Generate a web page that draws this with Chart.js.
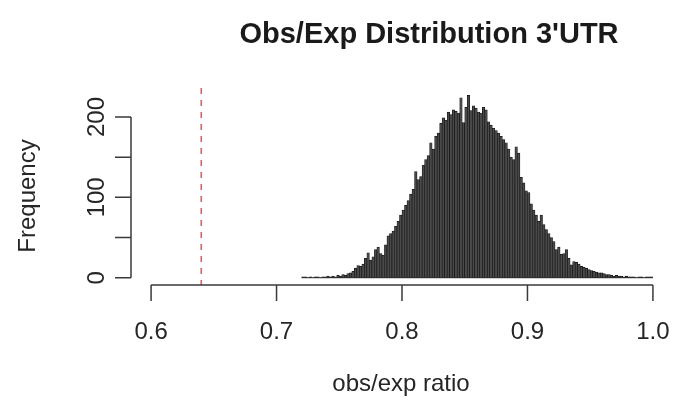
<!DOCTYPE html>
<html lang="en">
  <head>
    <meta charset="utf-8" />
    <title>Obs/Exp Distribution 3'UTR</title>
    <style>
      html, body { margin: 0; padding: 0; background: #fff; }
      .chartBox { width: 674px; height: 411px; }
    </style>
  </head>
  <body>
    <div class="chartBox">
      <canvas id="myChart" width="674" height="411"></canvas>
    </div>
    <script src="https://cdn.jsdelivr.net/npm/chart.js"></script>
    <script>
      // histogram of obs/exp ratios, bins of 0.002 starting at 0.72
      const binStart = 0.72;
      const binWidth = 0.002;
      const counts = [
        1, 1, 0, 1, 0, 1, 1, 0, 1, 1,
        2, 1, 2, 1, 3, 2, 4, 3, 5, 6,
        8, 12, 15, 14, 17, 24, 31, 22, 26, 35,
        38, 30, 28, 41, 52, 55, 58, 64, 70, 78,
        84, 90, 96, 104, 110, 132, 122, 126, 140, 147,
        152, 168, 160, 176, 180, 192, 199, 196, 206, 203,
        209, 207, 205, 224, 193, 212, 227, 208, 214, 211,
        206, 205, 212, 209, 194, 190, 186, 183, 180, 176,
        172, 168, 160, 150, 147, 163, 155, 125, 118, 108,
        106, 92, 84, 78, 70, 78, 66, 60, 55, 50,
        45, 35, 38, 29, 30, 35, 24, 16, 20, 19,
        17, 14, 13, 12, 10, 9, 8, 7, 6, 6,
        5, 4, 4, 3, 2, 3, 2, 2, 1, 2,
        1, 1, 1, 0, 1, 1, 0, 1, 1, 1,
      ];

      const xTicks = [0.6, 0.7, 0.8, 0.9, 1.0];
      const xTickLabels = ["0.6", "0.7", "0.8", "0.9", "1.0"];
      const yTicks = [0, 50, 100, 150, 200];
      const yTickLabels = ["0", "", "100", "", "200"];
      const cutoff = 0.64;

      const titleText = "Obs/Exp Distribution 3'UTR";
      const xTitle = "obs/exp ratio";
      const yTitle = "Frequency";

      const FONT = "'Liberation Sans', Arial, Helvetica, sans-serif";
      const INK = "#262626";

      const points = counts.map((c, i) => ({
        x: binStart + binWidth * (i + 0.5),
        y: c,
      }));

      // base-graphics style axes, labels and the dashed cutoff line
      const baseAxes = {
        id: "baseAxes",
        afterDraw(chart) {
          const { ctx, chartArea } = chart;
          const xs = chart.scales.x;
          const ys = chart.scales.y;
          const tick = 16;
          ctx.save();

          // dashed cutoff
          const cx = xs.getPixelForValue(cutoff);
          ctx.strokeStyle = "rgba(228, 60, 70, 0.85)";
          ctx.lineWidth = 1.6;
          ctx.setLineDash([6, 6]);
          ctx.beginPath();
          ctx.moveTo(cx, chartArea.top);
          ctx.lineTo(cx, chartArea.bottom);
          ctx.stroke();
          ctx.setLineDash([]);

          // zero line under the empty bins
          const y0 = ys.getPixelForValue(0);
          ctx.strokeStyle = "#222";
          ctx.lineWidth = 1;
          ctx.beginPath();
          ctx.moveTo(xs.getPixelForValue(binStart), y0);
          ctx.lineTo(xs.getPixelForValue(binStart + binWidth * counts.length), y0);
          ctx.stroke();

          ctx.strokeStyle = "#3a3a3a";
          ctx.lineWidth = 1.5;
          ctx.beginPath();
          // x axis
          const ax = chartArea.bottom;
          ctx.moveTo(xs.getPixelForValue(xTicks[0]), ax);
          ctx.lineTo(xs.getPixelForValue(xTicks[xTicks.length - 1]), ax);
          xTicks.forEach((v) => {
            const px = xs.getPixelForValue(v);
            ctx.moveTo(px, ax);
            ctx.lineTo(px, ax + tick);
          });
          // y axis
          const ay = chartArea.left;
          ctx.moveTo(ay, ys.getPixelForValue(yTicks[0]));
          ctx.lineTo(ay, ys.getPixelForValue(yTicks[yTicks.length - 1]));
          yTicks.forEach((v) => {
            const py = ys.getPixelForValue(v);
            ctx.moveTo(ay, py);
            ctx.lineTo(ay - tick, py);
          });
          ctx.stroke();

          ctx.fillStyle = INK;
          ctx.font = "24px " + FONT;
          ctx.textAlign = "center";
          ctx.textBaseline = "alphabetic";
          xTicks.forEach((v, i) => {
            ctx.fillText(xTickLabels[i], xs.getPixelForValue(v), 339);
          });
          ctx.fillText(xTitle, 401, 391);

          yTicks.forEach((v, i) => {
            if (!yTickLabels[i]) return;
            ctx.save();
            ctx.translate(104, ys.getPixelForValue(v));
            ctx.rotate(-Math.PI / 2);
            ctx.fillText(yTickLabels[i], 0, 0);
            ctx.restore();
          });

          ctx.save();
          ctx.translate(35, 196);
          ctx.rotate(-Math.PI / 2);
          ctx.fillText(yTitle, 0, 0);
          ctx.restore();

          ctx.font = "bold 29px " + FONT;
          ctx.fillStyle = "#1a1a1a";
          ctx.fillText(titleText, 429, 43);

          ctx.restore();
        },
      };

      const config = {
        type: "bar",
        data: {
          datasets: [
            {
              label: "counts",
              data: points,
              backgroundColor: "#4a4a4a",
              borderColor: "#151515",
              borderWidth: 0.7,
              barPercentage: 1,
              categoryPercentage: 1,
            },
          ],
        },
        plugins: [baseAxes],
        options: {
          responsive: false,
          animation: false,
          devicePixelRatio: 1,
          layout: {
            padding: { left: 131, right: 1, top: 88, bottom: 126 },
          },
          plugins: {
            legend: { display: false },
            tooltip: { enabled: false },
          },
          scales: {
            x: {
              type: "linear",
              min: 0.584,
              max: 1.016,
              offset: false,
              display: false,
            },
            y: { min: -9.08, max: 236.08, display: false },
          },
        },
      };

      const myChart = new Chart(document.getElementById("myChart"), config);
    </script>
  </body>
</html>
